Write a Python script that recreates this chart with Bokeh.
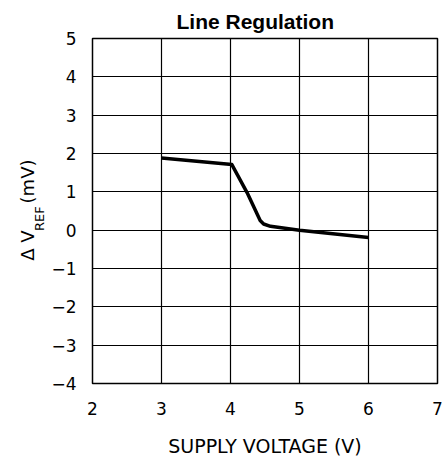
import math
from bokeh.plotting import figure
from bokeh.models import Range1d, FixedTicker
from bokeh.layouts import row
from bokeh.core.properties import value
from bokeh.embed import file_html
from bokeh.resources import INLINE

# data
supply_v = [3.0, 4.02, 4.24, 4.43, 4.48, 4.58, 5.0, 6.0]
delta_vref_mv = [1.88, 1.71, 0.98, 0.25, 0.16, 0.10, 0.0, -0.19]
x_ticks = [2, 3, 4, 5, 6, 7]
y_ticks = [-4, -3, -2, -1, 0, 1, 2, 3, 4, 5]
title_text = "Line Regulation"
x_label = "SUPPLY VOLTAGE (V)"
y_label_parts = ["Δ V", "REF", "(mV)"]

FONT = "DejaVu Sans"
W, H = 443, 459
LW = 48  # width of the side strip holding the y-axis title

y_range = Range1d(-4, 5)

# ---- side strip with the rotated y-axis title (shares the chart's y scale) ----
lf = figure(width=LW, height=H, output_backend="svg", toolbar_location=None,
            x_range=Range1d(0, LW), y_range=y_range,
            min_border=0, min_border_left=0, min_border_right=0,
            min_border_top=38, min_border_bottom=76,
            x_axis_type=None, y_axis_type=None)
lf.outline_line_color = None
lf.background_fill_color = "white"
lf.border_fill_color = "white"
ang = math.pi / 2
common = dict(angle=ang, text_align="center", text_baseline="middle",
              text_font=value(FONT), text_color="black")
lf.text(x=[26.5], y=[-0.40], text=[y_label_parts[0]], text_font_size="18px", **common)
lf.text(x=[38.5], y=[0.30], text=[y_label_parts[1]], text_font_size="13px", **common)
lf.text(x=[26.5], y=[1.27], text=[y_label_parts[2]], text_font_size="18px", **common)

# ---- main chart ----
p = figure(width=W - LW, height=H, output_backend="svg", toolbar_location=None,
           x_range=Range1d(2, 7), y_range=y_range,
           min_border_left=92 - LW, min_border_right=6, min_border_top=38, min_border_bottom=76)
p.background_fill_color = "white"
p.border_fill_color = "white"
p.outline_line_color = "black"
p.outline_line_width = 1.5

p.title.text = title_text
p.title.align = "left"
p.title.offset = 84
p.title.text_font = "Liberation Sans"
p.title.text_font_style = "bold"
p.title.text_font_size = "21px"
p.title.text_color = "black"
p.title.standoff = 11

for ax in (p.xaxis[0], p.yaxis[0]):
    ax.axis_line_color = None
    ax.major_tick_line_color = None
    ax.minor_tick_line_color = None
    ax.major_label_text_font = FONT
    ax.major_label_text_font_size = "17px"
    ax.major_label_text_color = "black"

p.xaxis[0].ticker = FixedTicker(ticks=x_ticks)
p.yaxis[0].ticker = FixedTicker(ticks=y_ticks)
p.xaxis[0].major_label_standoff = 12
p.yaxis[0].major_label_standoff = 10
p.xaxis[0].axis_label = x_label
p.xaxis[0].axis_label_text_font = FONT
p.xaxis[0].axis_label_text_font_size = "19px"
p.xaxis[0].axis_label_text_font_style = "normal"
p.xaxis[0].axis_label_text_color = "black"
p.xaxis[0].axis_label_standoff = 17

p.xgrid.ticker = FixedTicker(ticks=x_ticks)
p.ygrid.ticker = FixedTicker(ticks=y_ticks)
for g in (p.xgrid[0], p.ygrid[0]):
    g.grid_line_color = "black"
    g.grid_line_width = 1.2
    g.grid_line_alpha = 1.0

p.line(supply_v, delta_vref_mv, line_color="black", line_width=3.5, line_join="round")

layout = row(lf, p, spacing=0)
open("out.html", "w").write(file_html(layout, INLINE))
